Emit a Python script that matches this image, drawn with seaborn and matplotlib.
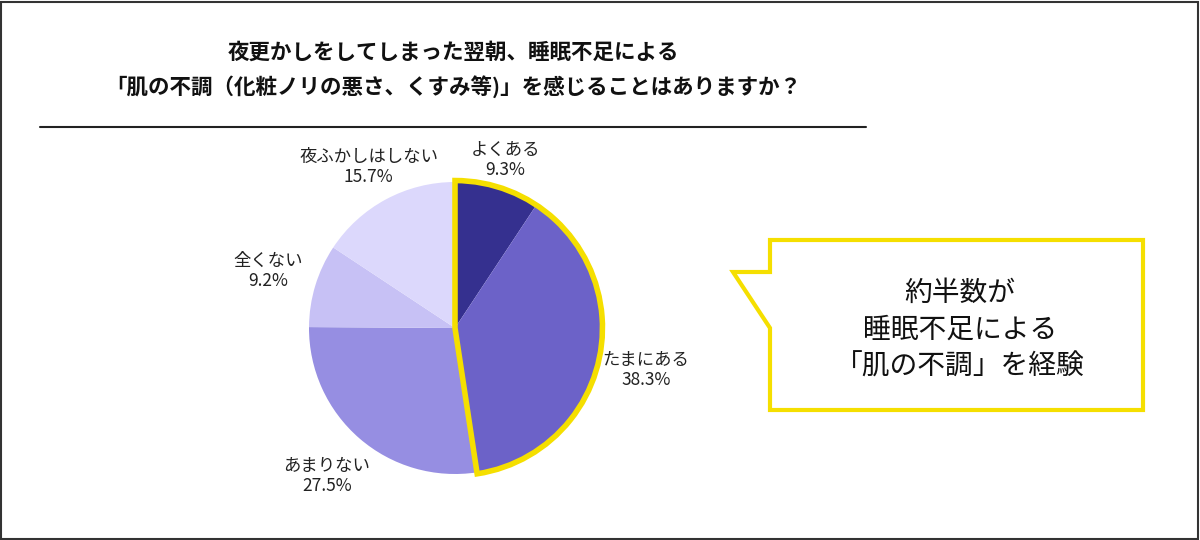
import matplotlib
matplotlib.use("Agg")
import matplotlib.pyplot as plt
import seaborn as sns
from matplotlib.patches import Wedge, Rectangle, Polygon
from matplotlib.lines import Line2D

# data
categories = ["よくある", "たまにある", "あまりない", "全くない", "夜ふかしはしない"]
shares = [9.3, 38.3, 27.5, 9.2, 15.7]
colors = ["#35308f", "#6c62c8", "#968ee2", "#c7c1f5", "#dcd8fc"]
highlight_n = 2  # first two slices outlined
title_lines = ["夜更かしをしてしまった翌朝、睡眠不足による",
               "「肌の不調（化粧ノリの悪さ、くすみ等)」を感じることはありますか？"]
callout = "約半数が\n睡眠不足による\n「肌の不調」を経験"

sns.set_theme(style="white")
plt.rcParams["font.family"] = ["Noto Sans CJK JP", "DejaVu Sans"]

fig = plt.figure(figsize=(12, 5.4), dpi=100)
ax = fig.add_axes([0, 0, 1, 1])

labels = [f"{c}\n{v}%" for c, v in zip(categories, shares)]
wedges, texts = ax.pie(shares, colors=colors, startangle=90, counterclock=False,
                       labels=labels, labeldistance=1.34,
                       wedgeprops=dict(linewidth=0),
                       textprops=dict(fontsize=12.5, color="#222222"))
for t in texts:
    t.set_ha("center")
    t.set_va("center")
    t.set_linespacing(1.15)
# pull the two upper labels a bit closer
for i, d in [(0, 1.2), (4, 1.25)]:
    x, y = texts[i].get_position()
    texts[i].set_position((x / 1.34 * d, y / 1.34 * d))

# 1 unit = radius of pie (146 px), pie centre at (455, 328) px from top-left
R = 146
ax.set_xlim(-455 / R, (1200 - 455) / R)
ax.set_ylim(-(540 - 328) / R, 328 / R)
ax.set_aspect("equal")
ax.axis("off")

# yellow outline around highlighted slices
hl_end = 90
hl_start = 90 - sum(shares[:highlight_n]) * 3.6
ax.add_patch(Wedge((0, 0), 1.01, hl_start, hl_end, fill=False,
                   edgecolor="#f5df00", linewidth=4, joinstyle="miter"))

# title
fig.text(453 / 1200, 1 - 52 / 540, title_lines[0], ha="center", va="center",
         fontsize=15.5, fontweight="bold", color="#111111")
fig.text(453 / 1200, 1 - 87 / 540, title_lines[1], ha="center", va="center",
         fontsize=15.5, fontweight="bold", color="#111111")
fig.add_artist(Line2D([40 / 1200, 866 / 1200], [1 - 127 / 540] * 2,
                      color="#222222", linewidth=1.5, transform=fig.transFigure))

# speech bubble
W, H = 1200, 540
pts = [(770, 240), (1143, 240), (1143, 410), (770, 410), (770, 328),
       (733, 272), (770, 272)]
pts = [(x / W, 1 - y / H) for x, y in pts]
fig.add_artist(Polygon(pts, closed=True, facecolor="white", edgecolor="#f5df00",
                       linewidth=3, transform=fig.transFigure))
fig.text(960 / W, 1 - 330 / H, callout, ha="center", va="center",
         fontsize=20, color="#111111", linespacing=1.3)

# outer frame
fig.add_artist(Rectangle((0.001, 0.002), 0.997, 0.995, fill=False,
                         edgecolor="#333333", linewidth=1.5,
                         transform=fig.transFigure))

fig.savefig("out.png", dpi=100, facecolor="white")
